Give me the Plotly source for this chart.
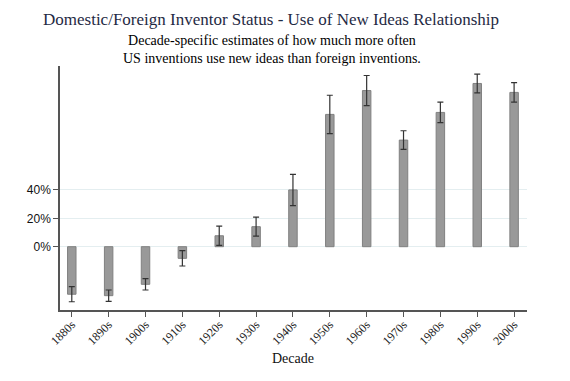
import plotly.graph_objects as go

decades = ["1880s", "1890s", "1900s", "1910s", "1920s", "1930s", "1940s",
           "1950s", "1960s", "1970s", "1980s", "1990s", "2000s"]
estimates = [-33.5, -34.5, -26.5, -8.2, 7.7, 14.1, 40.0, 93.2, 110.0, 75.1, 94.6, 115.0, 108.7]
errors = [5.3, 4.0, 4.0, 5.4, 6.8, 6.7, 11.0, 13.5, 10.6, 6.6, 7.2, 6.6, 6.9]
ytick_vals = [0, 20, 40]
ytick_text = ["0%", "20%", "40%"]

# page body margin offset (8px) compensation
OFF = 8
W, H = 570, 381
l, t = 60 - OFF, 66 - OFF
right_edge, bottom_edge = 527 - OFF, 310 - OFF
r, b = W - right_edge, H - bottom_edge
pw, ph = W - l - r, H - t - b
def px(x):
    return (x - OFF - l) / pw
def py(y):
    return (H - b - (y - OFF)) / ph

fig = go.Figure()
fig.add_trace(go.Bar(
    x=list(range(len(decades))), y=estimates,
    width=0.23,
    marker=dict(color="#999999", line=dict(color="#808080", width=1)),
    error_y=dict(type="data", array=errors, visible=True,
                 color="#333333", thickness=1.2, width=3),
))

fig.update_layout(
    width=W, height=H,
    margin=dict(l=l, r=r, t=t, b=b, autoexpand=False),
    plot_bgcolor="white", paper_bgcolor="white",
    showlegend=False,
    font=dict(family="Liberation Serif", color="#000000"),
    xaxis=dict(
        range=[-0.32, 12.35], automargin=False,
        tickmode="array", tickvals=list(range(len(decades))), ticktext=decades,
        tickangle=-45, tickfont=dict(family="Liberation Serif", size=12, color="#222"),
        ticklabelstandoff=-4,
        ticks="outside", ticklen=5, tickcolor="#555", tickwidth=1,
        showline=True, linecolor="#555", linewidth=1.5,
        showgrid=False, zeroline=False,
    ),
    yaxis=dict(
        range=[-44.6, 127.3], automargin=False,
        tickmode="array", tickvals=ytick_vals, ticktext=ytick_text,
        tickfont=dict(family="Liberation Sans", size=12, color="#111"),
        ticks="outside", ticklen=5, tickcolor="#555", tickwidth=1,
        showline=True, linecolor="#555", linewidth=1.5,
        showgrid=True, gridcolor="#e4eef0", gridwidth=1,
        zeroline=False,
    ),
)

fig.add_annotation(text="Domestic/Foreign Inventor Status - Use of New Ideas Relationship",
                   x=px(271), y=py(20), xref="paper", yref="paper", showarrow=False,
                   xanchor="center", yanchor="middle",
                   font=dict(family="Liberation Serif", size=17, color="#1f2a44"))
fig.add_annotation(text="Decade-specific estimates of how much more often<br>US inventions use new ideas than foreign inventions.",
                   x=px(272), y=py(50), xref="paper", yref="paper", showarrow=False,
                   xanchor="center", yanchor="middle",
                   font=dict(family="Liberation Serif", size=14, color="#000"))
fig.add_annotation(text="Decade",
                   x=px(293), y=py(358), xref="paper", yref="paper", showarrow=False,
                   xanchor="center", yanchor="middle",
                   font=dict(family="Liberation Serif", size=14, color="#111"))

fig.write_html("out.html")
